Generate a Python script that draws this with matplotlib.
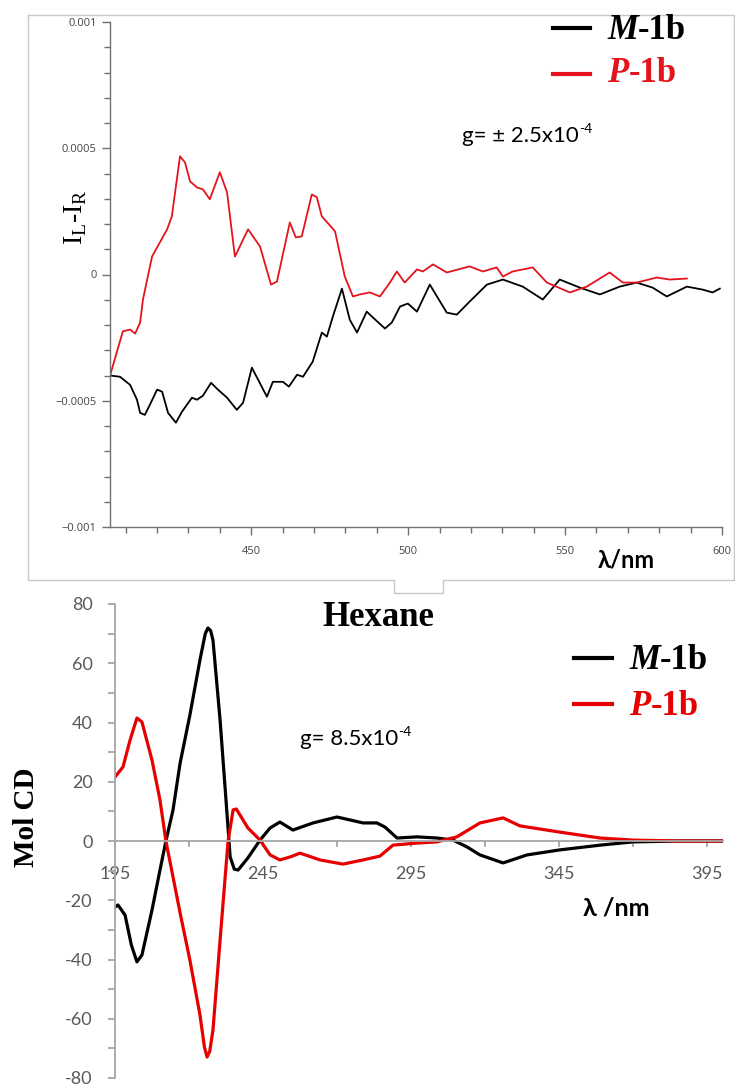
import numpy as np
import matplotlib.pyplot as plt
from matplotlib.lines import Line2D
from matplotlib.ticker import MultipleLocator, FixedLocator, FixedFormatter

# ---- top panel: I_L - I_R (units of 1e-4) ----
top_wl_black = [405.0, 408.2, 411.4, 413.6, 414.6, 416.1, 417.7, 420.0, 421.6, 423.5, 426.0, 427.9,
                431.1, 432.7, 434.6, 437.2, 439.4, 442.3, 445.4, 447.4, 450.2, 455.0, 456.9, 460.1,
                462.0, 464.6, 466.5, 469.6, 472.5, 474.1, 476.0, 478.9, 481.4, 483.7, 486.8, 487.8,
                492.6, 494.8, 497.4, 499.9, 502.8, 506.9, 512.3, 515.5, 519.6, 525.1, 530.2, 536.5,
                542.9, 548.3, 554.7, 561.1, 567.4, 572.8, 577.9, 582.4, 588.8, 593.9, 597.0, 599.3]
top_black = [-4.00, -4.05, -4.37, -4.96, -5.48, -5.56, -5.16, -4.56, -4.64, -5.48, -5.87, -5.44,
             -4.88, -4.96, -4.80, -4.29, -4.56, -4.88, -5.36, -5.08, -3.69, -4.84, -4.25, -4.25,
             -4.44, -3.97, -4.05, -3.45, -2.30, -2.46, -1.67, -0.56, -1.79, -2.30, -1.47, -1.59,
             -2.14, -1.90, -1.27, -1.15, -1.47, -0.40, -1.51, -1.59, -1.07, -0.40, -0.20, -0.48,
             -0.99, -0.20, -0.52, -0.79, -0.48, -0.32, -0.52, -0.87, -0.48, -0.60, -0.71, -0.56]

top_wl_red = [405.0, 409.1, 411.4, 413.0, 414.6, 415.5, 418.4, 420.0, 423.2, 424.7, 427.3, 428.9,
              430.5, 432.7, 434.6, 436.8, 440.0, 442.3, 444.8, 449.0, 452.8, 456.3, 458.2, 462.3,
              464.2, 466.1, 469.3, 470.9, 472.5, 475.1, 476.7, 479.8, 482.4, 484.6, 487.8, 491.0,
              494.2, 496.4, 498.9, 502.8, 504.7, 507.9, 512.3, 519.6, 523.8, 528.2, 530.2, 533.3,
              539.7, 544.2, 551.5, 556.9, 564.2, 568.4, 572.8, 579.2, 583.3, 588.8]
top_red = [-4.01, -2.25, -2.18, -2.34, -1.90, -0.99, 0.71, 1.07, 1.79, 2.30, 4.68, 4.44,
           3.69, 3.45, 3.37, 2.98, 4.05, 3.25, 0.71, 1.79, 1.11, -0.40, -0.28, 2.06,
           1.47, 1.51, 3.17, 3.06, 2.30, 1.94, 1.71, -0.08, -0.87, -0.79, -0.71, -0.87,
           -0.32, 0.12, -0.32, 0.20, 0.12, 0.40, 0.08, 0.32, 0.12, 0.28, -0.08, 0.12,
           0.28, -0.32, -0.71, -0.48, 0.08, -0.32, -0.32, -0.12, -0.20, -0.16]

# ---- bottom panel: Mol CD in hexane ----
bot_wl_black = [195.0, 196.0, 198.4, 200.5, 202.4, 204.1, 207.5, 210.2, 212.2, 214.6, 217.0, 220.3,
                223.7, 225.5, 226.4, 227.3, 228.1, 230.5, 232.5, 233.9, 235.3, 236.6, 239.9, 244.0,
                247.4, 250.7, 255.1, 261.9, 270.0, 278.8, 283.5, 286.2, 290.3, 297.0, 303.8, 309.2,
                313.9, 318.3, 326.1, 334.2, 345.3, 358.9, 370.0, 385.9, 400.4]
bot_black = [-22.3, -21.6, -25.0, -35.0, -40.8, -38.5, -23.3, -9.8, 0.0, 10.5, 26.3, 42.5,
             61.1, 70.0, 71.9, 71.0, 67.8, 40.8, 13.8, -5.4, -9.5, -9.8, -5.7, 0.3,
             4.4, 6.4, 3.7, 6.1, 8.1, 6.1, 6.1, 4.7, 1.0, 1.4, 1.0, 0.3,
             -2.0, -4.7, -7.4, -4.7, -3.0, -1.4, -0.3, 0.0, 0.0]

bot_wl_red = [195.0, 197.7, 200.1, 202.4, 204.1, 207.5, 210.2, 212.2, 217.0, 220.3, 223.7, 225.2,
              226.1, 227.0, 228.1, 230.5, 233.2, 234.9, 236.0, 236.6, 239.9, 244.0, 247.4, 250.7,
              254.1, 257.5, 264.3, 272.0, 278.8, 284.5, 288.9, 297.0, 303.8, 310.5, 318.3, 326.1,
              331.8, 345.3, 358.9, 370.0, 385.9, 400.4]
bot_red = [21.6, 25.0, 34.1, 41.5, 40.2, 27.3, 13.8, 0.0, -24.3, -40.2, -58.7, -69.5,
           -72.9, -71.0, -63.8, -33.4, 0.0, 10.5, 10.8, 9.8, 4.4, 0.3, -4.7, -6.4,
           -5.4, -4.1, -6.4, -7.8, -6.4, -5.1, -1.4, -0.7, -0.3, 1.4, 6.1, 7.8,
           5.1, 3.0, 1.0, 0.3, 0.0, 0.0]

bot_xticks = [195, 220, 245, 270, 295, 320, 345, 370, 395]
bot_xlabels = ['195', '', '245', '', '295', '', '345', '', '395']

W, H = 735, 1089
RED_TOP = '#e3141c'
RED_BOT = '#e60000'
serif = 'Liberation Serif'
sans = 'Lato'

fig = plt.figure(figsize=(W / 100, H / 100), dpi=100)


def fx(x):
    return x / W


def fy(y):
    return 1 - y / H


def rect(x0, y0, x1, y1):
    # pixel box (top-left, bottom-right) -> figure fractions
    return [fx(x0), fy(y1), fx(x1) - fx(x0), fy(y0) - fy(y1)]


def legend_entry(x0, x1, y_line, x_text, y_base, col, name):
    fig.add_artist(Line2D([fx(x0), fx(x1)], [fy(y_line), fy(y_line)], color=col, lw=3,
                          transform=fig.transFigure))
    t = fig.text(fx(x_text), fy(y_base), name, family=serif, fontweight='bold', style='italic',
                 fontsize=25, color=col, ha='left', va='baseline')
    fig.add_artist(plt.Annotation('-1b', xy=(1, 0), xycoords=t, family=serif,
                                  fontweight='bold', fontsize=25, color=col, ha='left',
                                  va='bottom', annotation_clip=False))


def g_text(x, y, base):
    t = fig.text(fx(x), fy(y), base, family=sans, fontsize=16, ha='left', va='baseline')
    fig.add_artist(plt.Annotation('-4', xy=(1, 0.55), xycoords=t, family=sans, fontsize=10,
                                  ha='left', va='bottom', annotation_clip=False))


# outer frame around top panel (with the small tab at the bottom)
frame = [(28, 15), (734, 15), (734, 580), (443, 580), (443, 593), (394, 593), (394, 580),
         (28, 580), (28, 15)]
fig.add_artist(Line2D([fx(p[0]) for p in frame], [fy(p[1]) for p in frame],
                      color='#c8c8c8', lw=1.0, transform=fig.transFigure))

# ---------------- top axes ----------------
ax1 = fig.add_axes(rect(110, 22, 722, 527))
ax1.plot(top_wl_black, np.array(top_black) * 1e-4, color='black', lw=1.3)
ax1.plot(top_wl_red, np.array(top_red) * 1e-4, color=RED_TOP, lw=1.3)
ax1.set_xlim(405, 600)
ax1.set_ylim(-0.001, 0.001)
for s in ['top', 'right']:
    ax1.spines[s].set_visible(False)
for s in ['left', 'bottom']:
    ax1.spines[s].set_color('#707070')
    ax1.spines[s].set_linewidth(1.0)
ax1.xaxis.set_major_locator(FixedLocator([450, 500, 550, 600]))
ax1.xaxis.set_minor_locator(MultipleLocator(10))
ax1.yaxis.set_major_locator(FixedLocator([-0.001, -0.0005, 0, 0.0005, 0.001]))
ax1.yaxis.set_major_formatter(FixedFormatter(['\u22120.001', '\u22120.0005', '0', '0.0005', '0.001']))
ax1.yaxis.set_minor_locator(MultipleLocator(0.0001))
ax1.tick_params(which='major', length=6, width=1, color='#707070', labelsize=8,
                labelcolor='#454545')
ax1.tick_params(which='minor', length=4, width=1, color='#707070')
ax1.tick_params(axis='x', which='major', pad=8)
for lab in ax1.get_xticklabels() + ax1.get_yticklabels():
    lab.set_family('Open Sans')

fig.text(fx(76), fy(217), r'I$_\mathregular{L}$-I$_\mathregular{R}$', family=serif,
         fontsize=20, rotation=90, ha='center', va='center')
fig.text(fx(598), fy(568), '\u03bb/nm', family=sans, fontweight='bold', fontsize=17,
         ha='left', va='baseline')
g_text(462, 142, 'g= \u00b1 2.5x10')

legend_entry(553, 590, 28, 607, 39, 'black', 'M')
legend_entry(553, 590, 74, 607, 82, RED_TOP, 'P')

# ---------------- bottom axes ----------------
ax2 = fig.add_axes(rect(115, 604, 723, 1078))
ax2.plot(bot_wl_black, bot_black, color='black', lw=2.3)
ax2.plot(bot_wl_red, bot_red, color=RED_BOT, lw=2.3)
ax2.set_xlim(195, 400.4)
ax2.set_ylim(-80, 80)
for s in ['top', 'right']:
    ax2.spines[s].set_visible(False)
ax2.spines['bottom'].set_position(('data', 0))
for s in ['left', 'bottom']:
    ax2.spines[s].set_color('#a6a6a6')
    ax2.spines[s].set_linewidth(1.3)
ax2.set_xticks(bot_xticks)
ax2.set_xticklabels(bot_xlabels)
ax2.yaxis.set_major_locator(MultipleLocator(20))
ax2.yaxis.set_minor_locator(MultipleLocator(10))
ax2.yaxis.set_major_formatter(plt.FuncFormatter(lambda v, p: '%d' % v))
ax2.tick_params(which='both', color='#a6a6a6', width=1.3, labelcolor='#595959', labelsize=13)
ax2.tick_params(axis='y', which='both', length=5, pad=11)
ax2.tick_params(axis='x', length=4, pad=14)
for lab in ax2.get_xticklabels() + ax2.get_yticklabels():
    lab.set_family(sans)

fig.text(fx(27), fy(817), 'Mol CD', family=serif, fontweight='bold', fontsize=21, rotation=90,
         ha='center', va='center')
fig.text(fx(322), fy(626), 'Hexane', family=serif, fontweight='bold', fontsize=25,
         ha='left', va='baseline')
g_text(300, 745, 'g= 8.5x10')
fig.text(fx(583), fy(915), '\u03bb /nm', family=sans, fontweight='bold', fontsize=18,
         ha='left', va='baseline')

legend_entry(574, 612, 658, 629, 669, 'black', 'M')
legend_entry(574, 612, 704, 629, 715, RED_BOT, 'P')

fig.savefig('out.png', dpi=100)
